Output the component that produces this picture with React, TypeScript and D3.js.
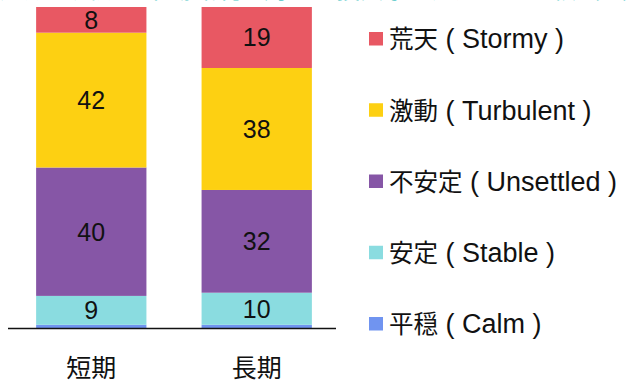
import React from "react";
import * as d3 from "d3";

const categories = ["短期", "長期"];
const seriesKeys = ["calm", "stable", "unsettled", "turbulent", "stormy"];
const seriesCJK = ["平穏", "安定", "不安定", "激動", "荒天"];
const seriesEN = ["Calm", "Stable", "Unsettled", "Turbulent", "Stormy"];
const calm = [1, 1];
const stable = [9, 10];
const unsettled = [40, 32];
const turbulent = [42, 38];
const stormy = [8, 19];
const colors = ["#7094F0", "#8ADCE0", "#8656A6", "#FDD012", "#E85863"];
const titleText = "短期と長期の市場環境に対する投資家の見通しの比較（%）";

const W = 628;
const H = 381;
const LATIN = "'Liberation Sans', Arial, sans-serif";
const CJK = "'Noto Sans CJK JP', sans-serif";

export default function App() {
  const values = [calm, stable, unsettled, turbulent, stormy];
  const rows = categories.map((c, i) => {
    const r: any = { cat: c };
    seriesKeys.forEach((k, j) => (r[k] = values[j][i]));
    return r;
  });
  const stack = d3.stack().keys(seriesKeys)(rows as any);

  const x = d3.scaleBand().domain(categories).range([8, 340]).paddingInner(1 / 3).paddingOuter(0.17);
  const y = d3.scaleLinear().domain([0, 100]).range([328, 7]);

  const legendY = d3.scalePoint().domain(seriesKeys.slice().reverse()).range([38.5, 323.5]);

  return (
    <svg width={W} height={H} style={{ position: "absolute", left: 0, top: 0, background: "#fff" }} fontFamily={LATIN}>
      <text x={0} y={-2} fontSize={24} fill="#4CC6C6" fontFamily={CJK}>
        {titleText}
      </text>
      {stack.map((s, si) => (
        <g key={seriesKeys[si]}>
          {s.map((d, i) => {
            const x0 = x(categories[i])!;
            const y0 = y(d[1]);
            const h = y(d[0]) - y(d[1]);
            const v = d[1] - d[0];
            return (
              <g key={i}>
                <rect x={x0} y={y0} width={x.bandwidth()} height={h} fill={colors[si]} />
                {v >= 5 && (
                  <text
                    x={x0 + x.bandwidth() / 2}
                    y={y0 + h / 2}
                    dy="0.36em"
                    textAnchor="middle"
                    fontSize={25}
                    fill="#111"
                  >
                    {v}
                  </text>
                )}
              </g>
            );
          })}
        </g>
      ))}
      <line x1={8} x2={336} y1={328.5} y2={328.5} stroke="#111" strokeWidth={1.5} />
      {categories.map((c) => (
        <text
          key={c}
          x={x(c)! + x.bandwidth() / 2}
          y={377}
          textAnchor="middle"
          fontSize={25}
          fill="#111"
          fontFamily={CJK}
        >
          {c}
        </text>
      ))}
      {seriesKeys.map((k, i) => {
        const cy = legendY(k)!;
        return (
          <g key={k}>
            <rect x={369} y={cy - 6.5} width={14} height={13.5} fill={colors[i]} />
            <text x={389} y={cy + 9.8} fill="#111" style={{ whiteSpace: "pre" }}>
              <tspan fontFamily={CJK} fontSize={24.5}>
                {seriesCJK[i]}
              </tspan>
              <tspan fontFamily={LATIN} fontSize={27}>
                {" ( " + seriesEN[i] + " )"}
              </tspan>
            </text>
          </g>
        );
      })}
    </svg>
  );
}
